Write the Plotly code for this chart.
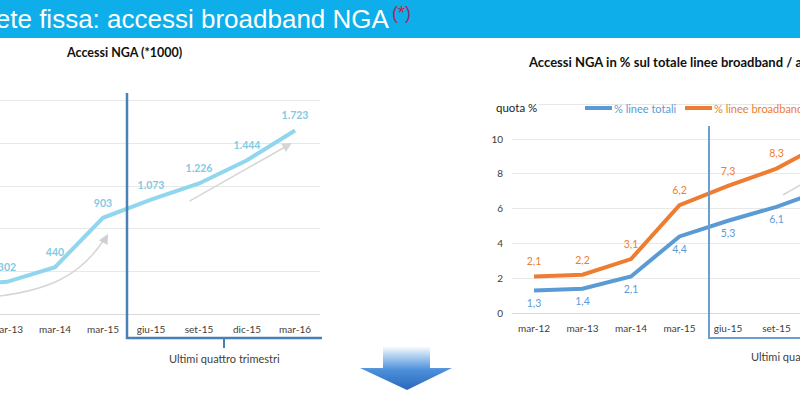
import plotly.graph_objects as go

W, H = 800, 395


def px(x):
    return x / W


def py(y):
    return 1 - y / H


# ---------------- data ----------------
left_categories = ["mar-12", "mar-13", "mar-14", "mar-15", "giu-15", "set-15", "dic-15", "mar-16"]
nga_accesses_k = [281, 302, 440, 903, 1073, 1226, 1444, 1723]
left_y_ticks = [0, 400, 800, 1200, 1600, 2000]

right_categories = ["mar-12", "mar-13", "mar-14", "mar-15", "giu-15", "set-15", "dic-15", "mar-16"]
share_total_lines = [1.3, 1.4, 2.1, 4.4, 5.3, 6.1, 7.1, 8.5]
share_broadband_lines = [2.1, 2.2, 3.1, 6.2, 7.3, 8.3, 9.8, 11.6]
right_y_ticks = [0, 2, 4, 6, 8, 10, 12]
right_y_ticklabels = ["0", "2", "4", "6", "8", "10", ""]

series_names = ["% linee totali", "% linee broadband"]

left_labels = [f"{v:,}".replace(",", ".") for v in nga_accesses_k]
blue_labels = [f"{v:.1f}".replace(".", ",") for v in share_total_lines]
orange_labels = [f"{v:.1f}".replace(".", ",") for v in share_broadband_lines]

CYAN = "#8fd6ee"
CYAN_TXT = "#7fcbe4"
BLUE = "#5b9bd5"
ORANGE = "#ed7d31"
TXT = "#404040"
FONT = "Lato"
HIDDEN_MARKER = dict(size=12, color="rgba(0,0,0,0)")

fig = go.Figure()

# left chart line
fig.add_trace(go.Scatter(
    x=left_categories, y=nga_accesses_k, mode="lines+markers+text",
    text=left_labels, textposition="top center", marker=HIDDEN_MARKER,
    textfont=dict(family=FONT, size=10.5, color=CYAN_TXT, weight="bold"),
    line=dict(color=CYAN, width=4), xaxis="x", yaxis="y",
    showlegend=False, hoverinfo="skip"))

# right chart lines
fig.add_trace(go.Scatter(
    x=right_categories, y=share_total_lines, mode="lines+markers+text",
    name=series_names[0], marker=HIDDEN_MARKER,
    text=blue_labels, textposition="bottom center",
    textfont=dict(family=FONT, size=10.5, color=BLUE),
    line=dict(color=BLUE, width=4), xaxis="x2", yaxis="y2",
    showlegend=False, hoverinfo="skip"))
fig.add_trace(go.Scatter(
    x=right_categories, y=share_broadband_lines, mode="lines+markers+text",
    name=series_names[1], marker=HIDDEN_MARKER,
    text=orange_labels, textposition="top center",
    textfont=dict(family=FONT, size=10.5, color=ORANGE),
    line=dict(color=ORANGE, width=4), xaxis="x2", yaxis="y2",
    showlegend=False, hoverinfo="skip"))

# decorative down arrow (gradient)
arrow_x = [383, 430, 430, 452, 407, 360, 383, 383]
arrow_y = [347, 347, 368, 368, 390, 368, 368, 347]
fig.add_trace(go.Scatter(
    x=arrow_x, y=arrow_y, mode="lines", fill="toself",
    fillgradient=dict(type="vertical",
                      colorscale=[[0, "#2b68bb"], [0.45, "#4b8fda"], [0.8, "#b9d5f2"], [1, "#ffffff"]],
                      start=390, stop=346),
    line=dict(width=0), xaxis="x3", yaxis="y3", showlegend=False, hoverinfo="skip"))

# ------------- axes geometry -------------
# left: value 0 at y=314, 2000 at y=101
l_ppu = (314 - 101) / 2000
l_top = 2010
l_dom = [py(314), py(314 - l_top * l_ppu)]
# categories: mar-13 (idx 1) at x=7, step 48
l_step = 48
l_range = [1 - 7 / l_step, 1 + (320 - 7) / l_step]

# right: 0 at y=313, 10 at y=139
r_ppu = (313 - 139) / 10
r_top = 12.2
r_dom = [py(313), py(313 - r_top * r_ppu)]
r_x0 = 512
r_step = 48.5
r_range = [-(534 - r_x0) / r_step, (800 - 534) / r_step]

tickfont = dict(family=FONT, size=10, color=TXT)

fig.update_layout(
    width=W, height=H, autosize=False,
    margin=dict(l=0, r=0, t=0, b=0, autoexpand=False),
    paper_bgcolor="white", plot_bgcolor="rgba(0,0,0,0)",
    hovermode=False, showlegend=False,
    xaxis=dict(domain=[0, px(320)], type="category", categoryarray=left_categories,
               range=l_range, showgrid=False, showline=True, linecolor="#d9d9d9",
               linewidth=1, ticks="", tickfont=tickfont, anchor="y", fixedrange=True,
               ticklabelstandoff=6),
    yaxis=dict(domain=l_dom, range=[0, l_top], tickvals=left_y_ticks,
               showgrid=True, gridcolor="#e8e8e8", showticklabels=False,
               zeroline=False, anchor="x", fixedrange=True),
    xaxis2=dict(domain=[px(r_x0), 1], type="category", categoryarray=right_categories,
                range=r_range, showgrid=False, showline=True, linecolor="#d9d9d9",
                linewidth=1, ticks="", tickfont=tickfont, anchor="y2", fixedrange=True,
                ticklabelstandoff=6),
    yaxis2=dict(domain=r_dom, range=[0, r_top], tickvals=right_y_ticks,
                ticktext=right_y_ticklabels, showgrid=True, gridcolor="#e8e8e8",
                zeroline=False, ticks="", tickfont=tickfont, anchor="x2",
                fixedrange=True, ticklabelstandoff=8),
    xaxis3=dict(domain=[0, 1], range=[0, W], visible=False, anchor="y3", fixedrange=True),
    yaxis3=dict(domain=[0, 1], range=[H, 0], visible=False, anchor="x3", fixedrange=True),
)

shapes = []
# header band
shapes.append(dict(type="rect", xref="paper", yref="paper", x0=0, x1=1, y0=py(38), y1=1,
                   fillcolor="#0daeea", line=dict(width=0), layer="below"))


def path(points):
    return "M " + " L ".join(f"{px(x):.5f},{py(y):.5f}" for x, y in points)


# left bracket
shapes.append(dict(type="path", xref="paper", yref="paper",
                   path=path([(127, 93), (127, 338), (322, 338)]),
                   line=dict(color="#4a80b8", width=2.5)))
shapes.append(dict(type="path", xref="paper", yref="paper",
                   path=path([(224, 338), (224, 348)]),
                   line=dict(color="#4a80b8", width=2)))
# right bracket
shapes.append(dict(type="path", xref="paper", yref="paper",
                   path=path([(709, 126), (709, 338), (810, 338)]),
                   line=dict(color="#6d9ed2", width=2)))
# gray trend curve (left)
shapes.append(dict(type="path", xref="paper", yref="paper",
                   path=f"M {px(0):.5f},{py(296):.5f} C {px(45):.5f},{py(290):.5f} {px(80):.5f},{py(278):.5f} {px(105):.5f},{py(238):.5f}",
                   line=dict(color="#d6d6d6", width=1.5)))
# gray trend line (right)
shapes.append(dict(type="path", xref="paper", yref="paper",
                   path=path([(783, 195), (812, 178)]),
                   line=dict(color="#d6d6d6", width=1.5)))
# manual legend samples
shapes.append(dict(type="line", xref="paper", yref="paper", x0=px(585), x1=px(612),
                   y0=py(108), y1=py(108), line=dict(color=BLUE, width=4)))
shapes.append(dict(type="line", xref="paper", yref="paper", x0=px(685), x1=px(712),
                   y0=py(108), y1=py(108), line=dict(color=ORANGE, width=4)))
fig.update_layout(shapes=shapes)

ann = []
# header title
ann.append(dict(xref="paper", yref="paper", x=px(392), y=py(19), xanchor="right", yanchor="middle",
                text="Rete fissa: accessi broadband NGA", showarrow=False,
                font=dict(family="Liberation Sans", size=26, color="white")))
ann.append(dict(xref="paper", yref="paper", x=px(390), y=py(13), xanchor="left", yanchor="middle",
                text="<span style='color:#9a2f6e'>(</span>*<span style='color:#9a2f6e'>)</span>",
                showarrow=False,
                font=dict(family="Liberation Sans", size=18, color="#d0202e")))
# chart titles
ann.append(dict(xref="paper", yref="paper", x=px(124), y=py(52), xanchor="center", yanchor="middle",
                text="<b>Accessi NGA (*1000)</b>", showarrow=False,
                font=dict(family=FONT, size=12.5, color="#111111")))
ann.append(dict(xref="paper", yref="paper", x=px(526), y=py(62), xanchor="left", yanchor="middle",
                text="<b>Accessi NGA in % sul totale linee broadband / accessi totali</b>", showarrow=False,
                font=dict(family=FONT, size=13, color="#111111")))
ann.append(dict(xref="paper", yref="paper", x=px(494), y=py(107), xanchor="left", yanchor="middle",
                text="quota %", showarrow=False, bgcolor="white",
                font=dict(family=FONT, size=11.5, color="#222222")))
# manual legend texts
ann.append(dict(xref="paper", yref="paper", x=px(612), y=py(108), xanchor="left", yanchor="middle",
                text=series_names[0], showarrow=False,
                font=dict(family=FONT, size=11, color=BLUE)))
ann.append(dict(xref="paper", yref="paper", x=px(712), y=py(108), xanchor="left", yanchor="middle",
                text=series_names[1], showarrow=False,
                font=dict(family=FONT, size=11, color=ORANGE)))
# bracket captions
ann.append(dict(xref="paper", yref="paper", x=px(224), y=py(358), xanchor="center", yanchor="middle",
                text="Ultimi quattro trimestri", showarrow=False,
                font=dict(family=FONT, size=11, color=TXT)))
ann.append(dict(xref="paper", yref="paper", x=px(749), y=py(356), xanchor="left", yanchor="middle",
                text="Ultimi quattro trimestri", showarrow=False,
                font=dict(family=FONT, size=11, color=TXT)))
# arrowheads
ann.append(dict(xref="paper", yref="paper", x=px(108), y=py(234), ax=-5, ay=9,
                text="", showarrow=True, arrowhead=2, arrowsize=1.3, arrowwidth=1.5,
                arrowcolor="#cfcfcf"))
ann.append(dict(xref="paper", yref="paper", x=px(292), y=py(143), ax=188 - 292, ay=202 - 143,
                text="", showarrow=True, arrowhead=2, arrowsize=1.3, arrowwidth=1.5,
                arrowcolor="#d6d6d6"))
fig.update_layout(annotations=ann)

fig.write_html(
    "out.html",
    config={"displayModeBar": False, "staticPlot": True},
    post_script="document.body.style.margin='0';document.body.style.overflow='hidden';",
)
